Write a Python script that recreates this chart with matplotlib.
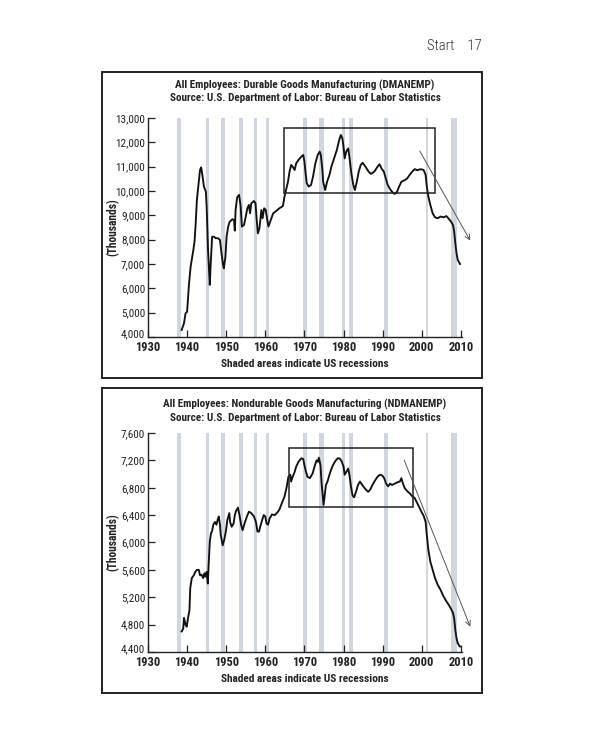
import matplotlib
matplotlib.use("Agg")
import matplotlib.pyplot as plt
import matplotlib.font_manager as fm
import matplotlib.transforms as mtransforms
from matplotlib.patches import Rectangle
from matplotlib.ticker import FuncFormatter

# ---------------- data ----------------
dur_years = [1938.6, 1939.2, 1939.6, 1940.0, 1940.5, 1940.9, 1941.6, 1941.9, 1942.2, 1942.5,
             1942.9, 1943.3, 1943.6, 1943.9, 1944.3, 1944.8, 1945.0, 1945.35, 1945.8, 1946.0,
             1946.4, 1946.9, 1947.3, 1947.9, 1948.4, 1948.8, 1949.2, 1949.4, 1949.8, 1950.1,
             1950.5, 1950.9, 1951.6, 1952.0, 1952.2, 1952.4, 1952.8, 1953.3, 1953.7, 1954.0,
             1954.55, 1955.0, 1955.4, 1955.8, 1956.1, 1956.4, 1957.1, 1957.5, 1957.8, 1958.1,
             1958.5, 1959.0, 1959.3, 1959.7, 1960.1, 1960.5, 1960.8, 1961.4, 1962.0, 1962.8,
             1963.6, 1964.5, 1964.9, 1965.3, 1965.8, 1966.2, 1966.6, 1967.0, 1967.5, 1967.9,
             1968.5, 1969.2, 1969.7, 1970.0, 1970.3, 1970.6, 1971.1, 1971.7, 1972.2, 1972.8,
             1973.4, 1973.9, 1974.2, 1974.6, 1974.8, 1975.3, 1975.8, 1976.1, 1976.4, 1976.9,
             1977.6, 1978.3, 1978.9, 1979.3, 1979.7, 1980.0, 1980.3, 1980.7, 1981.2, 1981.5,
             1982.0, 1982.5, 1982.9, 1983.4, 1983.9, 1984.4, 1984.9, 1985.6, 1986.4, 1987.0,
             1987.9, 1988.7, 1989.2, 1989.7, 1990.3, 1990.8, 1991.3, 1991.9, 1992.4, 1993.1,
             1993.7, 1994.2, 1994.8, 1995.7, 1996.3, 1996.9, 1997.6, 1998.2, 1998.9, 1999.5,
             2000.0, 2000.5, 2001.0, 2001.3, 2001.7, 2002.2, 2002.8, 2003.4, 2004.1, 2004.8,
             2005.6, 2006.3, 2006.8, 2007.5, 2008.0, 2008.3, 2008.6, 2008.9, 2009.2, 2009.6,
             2009.8]
dur_values = [4290, 4560, 4970, 5040, 6210, 6890, 7580, 7920, 8670, 9630,
              10250, 10860, 10970, 10660, 10180, 9970, 9360, 7580, 6140, 6890,
              8120, 8120, 8060, 8060, 7990, 7440, 6960, 6820, 7300, 8120,
              8540, 8740, 8840, 8810, 8370, 9220, 9740, 9840, 9360, 8540,
              8600, 8950, 9290, 9430, 9080, 9490, 9590, 9490, 8810, 8260,
              8470, 9220, 8880, 9290, 9220, 8810, 8540, 8810, 9080, 9180,
              9290, 9380, 9770, 10040, 10380, 10800, 11070, 11000, 10860, 11140,
              11280, 11410, 11480, 11210, 10730, 10320, 10180, 10250, 10590, 11140,
              11480, 11620, 11480, 10860, 10380, 10040, 10380, 10520, 10660, 11000,
              11340, 11690, 12100, 12300, 12170, 11820, 11340, 11620, 11750, 11410,
              10730, 10250, 10040, 10380, 10800, 11070, 11160, 11000, 10800, 10700,
              10800, 11000, 11100, 10930, 10800, 10520, 10250, 10080, 9970, 9880,
              9970, 10180, 10380, 10450, 10520, 10660, 10800, 10900, 10850, 10890,
              10890, 10860, 10660, 10180, 9770, 9430, 9080, 8920, 8880, 8950,
              8920, 8970, 8880, 8740, 8600, 8330, 7850, 7440, 7170, 7060,
              7000]

nd_years = [1938.6, 1939.0, 1939.2, 1939.6, 1939.9, 1940.3, 1940.6, 1940.8, 1941.2, 1941.7,
            1942.1, 1942.5, 1943.0, 1943.3, 1943.7, 1944.1, 1944.4, 1944.7, 1945.0, 1945.3,
            1945.5, 1945.8, 1946.1, 1946.4, 1946.7, 1947.1, 1947.5, 1947.8, 1948.1, 1948.4,
            1948.6, 1949.1, 1949.5, 1949.9, 1950.3, 1950.8, 1951.0, 1951.4, 1951.9, 1952.2,
            1952.5, 1953.0, 1953.4, 1953.8, 1954.2, 1954.7, 1955.3, 1955.8, 1956.4, 1957.1,
            1957.6, 1958.0, 1958.4, 1958.7, 1959.2, 1959.6, 1960.0, 1960.3, 1960.7, 1961.1,
            1961.7, 1962.4, 1963.1, 1963.6, 1964.2, 1964.9, 1965.5, 1965.9, 1966.4, 1966.6,
            1967.0, 1967.5, 1967.9, 1968.5, 1969.2, 1969.7, 1970.0, 1970.4, 1970.8, 1971.4,
            1972.1, 1972.7, 1973.1, 1973.4, 1973.7, 1974.1, 1974.4, 1974.7, 1974.9, 1975.3,
            1975.5, 1975.9, 1976.4, 1976.8, 1977.3, 1977.9, 1978.5, 1979.0, 1979.5, 1980.0,
            1980.3, 1980.7, 1981.2, 1981.5, 1981.9, 1982.3, 1982.7, 1983.2, 1983.7, 1984.2,
            1984.8, 1985.6, 1986.3, 1986.8, 1987.4, 1988.1, 1988.7, 1989.3, 1989.9, 1990.4,
            1990.9, 1991.4, 1991.9, 1992.4, 1993.1, 1993.8, 1994.4, 1994.8, 1995.2, 1995.7,
            1996.3, 1996.9, 1997.5, 1998.2, 1998.9, 1999.5, 2000.0, 2000.5, 2001.0, 2001.3,
            2001.7, 2002.2, 2002.8, 2003.4, 2004.1, 2004.8, 2005.5, 2006.2, 2006.9, 2007.5,
            2008.0, 2008.3, 2008.6, 2008.9, 2009.2, 2009.6, 2009.8]
nd_values = [4700, 4740, 4900, 4800, 4770, 4920, 5010, 5330, 5480, 5520,
             5570, 5600, 5600, 5520, 5530, 5480, 5550, 5500, 5570, 5400,
             5670, 6010, 6130, 6170, 6260, 6300, 6260, 6330, 6380, 6260,
             6110, 5960, 6040, 6160, 6330, 6430, 6300, 6230, 6280, 6400,
             6460, 6510, 6400, 6260, 6180, 6280, 6380, 6450, 6430, 6380,
             6300, 6160, 6160, 6230, 6330, 6400, 6380, 6280, 6260, 6350,
             6410, 6400, 6440, 6480, 6570, 6670, 6820, 6960, 6990, 6890,
             6960, 7030, 7110, 7180, 7230, 7220, 7130, 7030, 6960, 6940,
             7010, 7130, 7200, 7180, 7240, 7130, 6860, 6670, 6550, 6740,
             6840, 6890, 6990, 7060, 7130, 7190, 7230, 7230, 7190, 7110,
             6990, 7030, 7080, 6990, 6820, 6690, 6660, 6740, 6840, 6890,
             6840, 6780, 6740, 6770, 6840, 6910, 6960, 6990, 6980, 6940,
             6860, 6820, 6860, 6840, 6860, 6880, 6890, 6940, 6860, 6790,
             6750, 6720, 6680, 6650, 6570, 6500, 6440, 6390, 6300, 6110,
             5890, 5720, 5600, 5480, 5380, 5310, 5220, 5150, 5090, 5030,
             4970, 4890, 4720, 4600, 4530, 4490, 4480]

recession_start = [1937.4, 1944.9, 1948.6, 1953.3, 1957.1, 1960.3, 1969.7, 1973.7,
                   1979.7, 1981.4, 1990.4, 2001.0, 2007.6]
recession_end = [1938.5, 1945.6, 1949.6, 1954.3, 1957.9, 1961.0, 1970.7, 1975.0,
                 1980.3, 1982.5, 1991.3, 2001.7, 2009.0]

x_ticks = [1930, 1940, 1950, 1960, 1970, 1980, 1990, 2000, 2010]
dur_yticks = [4000, 5000, 6000, 7000, 8000, 9000, 10000, 11000, 12000, 13000]
nd_yticks = [4400, 4800, 5200, 5600, 6000, 6400, 6800, 7200, 7600]

dur_box = (1964.7, 2003.5, 9930, 12580)      # x0, x1, y0, y1
nd_box = (1966.1, 1997.8, 6523, 7376)
dur_arrow = ((1999.5, 11645), (2012.4, 7960))
nd_arrow = ((1995.5, 7205), (2012.4, 4770))

dur_title = ["All Employees: Durable Goods Manufacturing (DMANEMP)",
             "Source: U.S. Department of Labor: Bureau of Labor Statistics"]
nd_title = ["All Employees: Nondurable Goods Manufacturing (NDMANEMP)",
            "Source: U.S. Department of Labor: Bureau of Labor Statistics"]
x_label = "Shaded areas indicate US recessions"
y_label = "(Thousands)"
page_header = "Start    17"

# ---------------- fonts ----------------
avail = {f.name for f in fm.fontManager.ttflist}
STRETCH = "normal"
if "Liberation Sans Narrow" in avail:
    FAM = ["Liberation Sans Narrow", "DejaVu Sans"]
elif "Roboto Condensed" in avail:
    FAM = ["Roboto Condensed", "DejaVu Sans"]
else:
    FAM = ["DejaVu Sans"]
    STRETCH = "condensed"
plt.rcParams["font.family"] = FAM
plt.rcParams["font.stretch"] = STRETCH

W, H = 600, 750
fig = plt.figure(figsize=(W / 100, H / 100), dpi=100)
fig.patch.set_facecolor("white")


def fx(px):
    return px / W


def fy(py):
    return 1 - py / H


def panel(box_px, ax_px, years, values, yticks, ylim, title, title_py, xlabel_py, rect, arrow):
    # outer frame
    bx0, by0, bx1, by1 = box_px
    fig.add_artist(Rectangle((fx(bx0), fy(by1)), fx(bx1) - fx(bx0), fy(by0) - fy(by1),
                             transform=fig.transFigure, fill=False, lw=1.4, ec="#222222"))
    ax0, ay0, ax1, ay1 = ax_px
    ax = fig.add_axes([fx(ax0), fy(ay1), fx(ax1) - fx(ax0), fy(ay0) - fy(ay1)])
    for s, e in zip(recession_start, recession_end):
        ax.axvspan(s, e, color="#d0d7df", lw=0, zorder=1)
    ax.plot(years, values, color="#111111", lw=1.35, zorder=3)
    x0, x1, y0, y1 = rect
    ax.add_patch(Rectangle((x0, y0), x1 - x0, y1 - y0, fill=False, ec="#222222", lw=1.1, zorder=4))
    ax.annotate("", xy=arrow[1], xytext=arrow[0],
                arrowprops=dict(arrowstyle="->", color="#555555", lw=0.7,
                                mutation_scale=9, shrinkA=0, shrinkB=0),
                annotation_clip=False, zorder=5)
    ax.set_xlim(1930, 2010.3)
    ax.set_ylim(*ylim)
    ax.set_xticks(x_ticks)
    ax.set_yticks(yticks)
    ax.yaxis.set_major_formatter(FuncFormatter(lambda v, p: f"{int(v):,}"))
    for sp in ("top", "right"):
        ax.spines[sp].set_visible(False)
    for sp in ("left", "bottom"):
        ax.spines[sp].set_linewidth(1.0)
        ax.spines[sp].set_color("#222222")
    ax.tick_params(axis="y", direction="in", length=5, width=0.9, pad=2,
                   labelsize=8, colors="#222222")
    ax.tick_params(axis="x", direction="in", length=5, width=0.9, pad=3,
                   labelsize=9, colors="#222222")
    for lab in ax.get_xticklabels():
        lab.set_fontweight("bold")
    # lift the lowest y label a little so it sits just above the year labels
    low = ax.get_yticklabels()[0]
    low.set_transform(low.get_transform() +
                      mtransforms.ScaledTranslation(0, 2.5 / 72, fig.dpi_scale_trans))
    ax.patch.set_alpha(0)
    cx = (fx(ax0) + fx(ax1)) / 2
    fig.text(cx, fy(title_py[0]), title[0], ha="center", va="center",
             fontsize=8, fontweight="bold", color="#222222")
    fig.text(cx, fy(title_py[1]), title[1], ha="center", va="center",
             fontsize=8, fontweight="bold", color="#222222")
    fig.text(cx, fy(xlabel_py), x_label, ha="center", va="center",
             fontsize=8.2, fontweight="bold", color="#222222")
    fig.text(fx(113), (fy(ay0) + fy(ay1)) / 2, y_label, ha="center", va="center",
             rotation=90, fontsize=8.3, fontweight="bold", color="#222222")
    return ax


panel((102, 72, 482, 378), (148, 118, 462, 337), dur_years, dur_values,
      dur_yticks, (4000, 13000), dur_title, (85, 98), 364, dur_box, dur_arrow)
panel((102, 388, 482, 693), (148, 433, 462, 652), nd_years, nd_values,
      nd_yticks, (4400, 7600), nd_title, (404, 418), 679, nd_box, nd_arrow)

fig.text(fx(482), fy(46), page_header, ha="right", va="center",
         fontsize=10.5, fontweight="light", color="#333333")

fig.savefig("out.png", dpi=100, facecolor="white")
